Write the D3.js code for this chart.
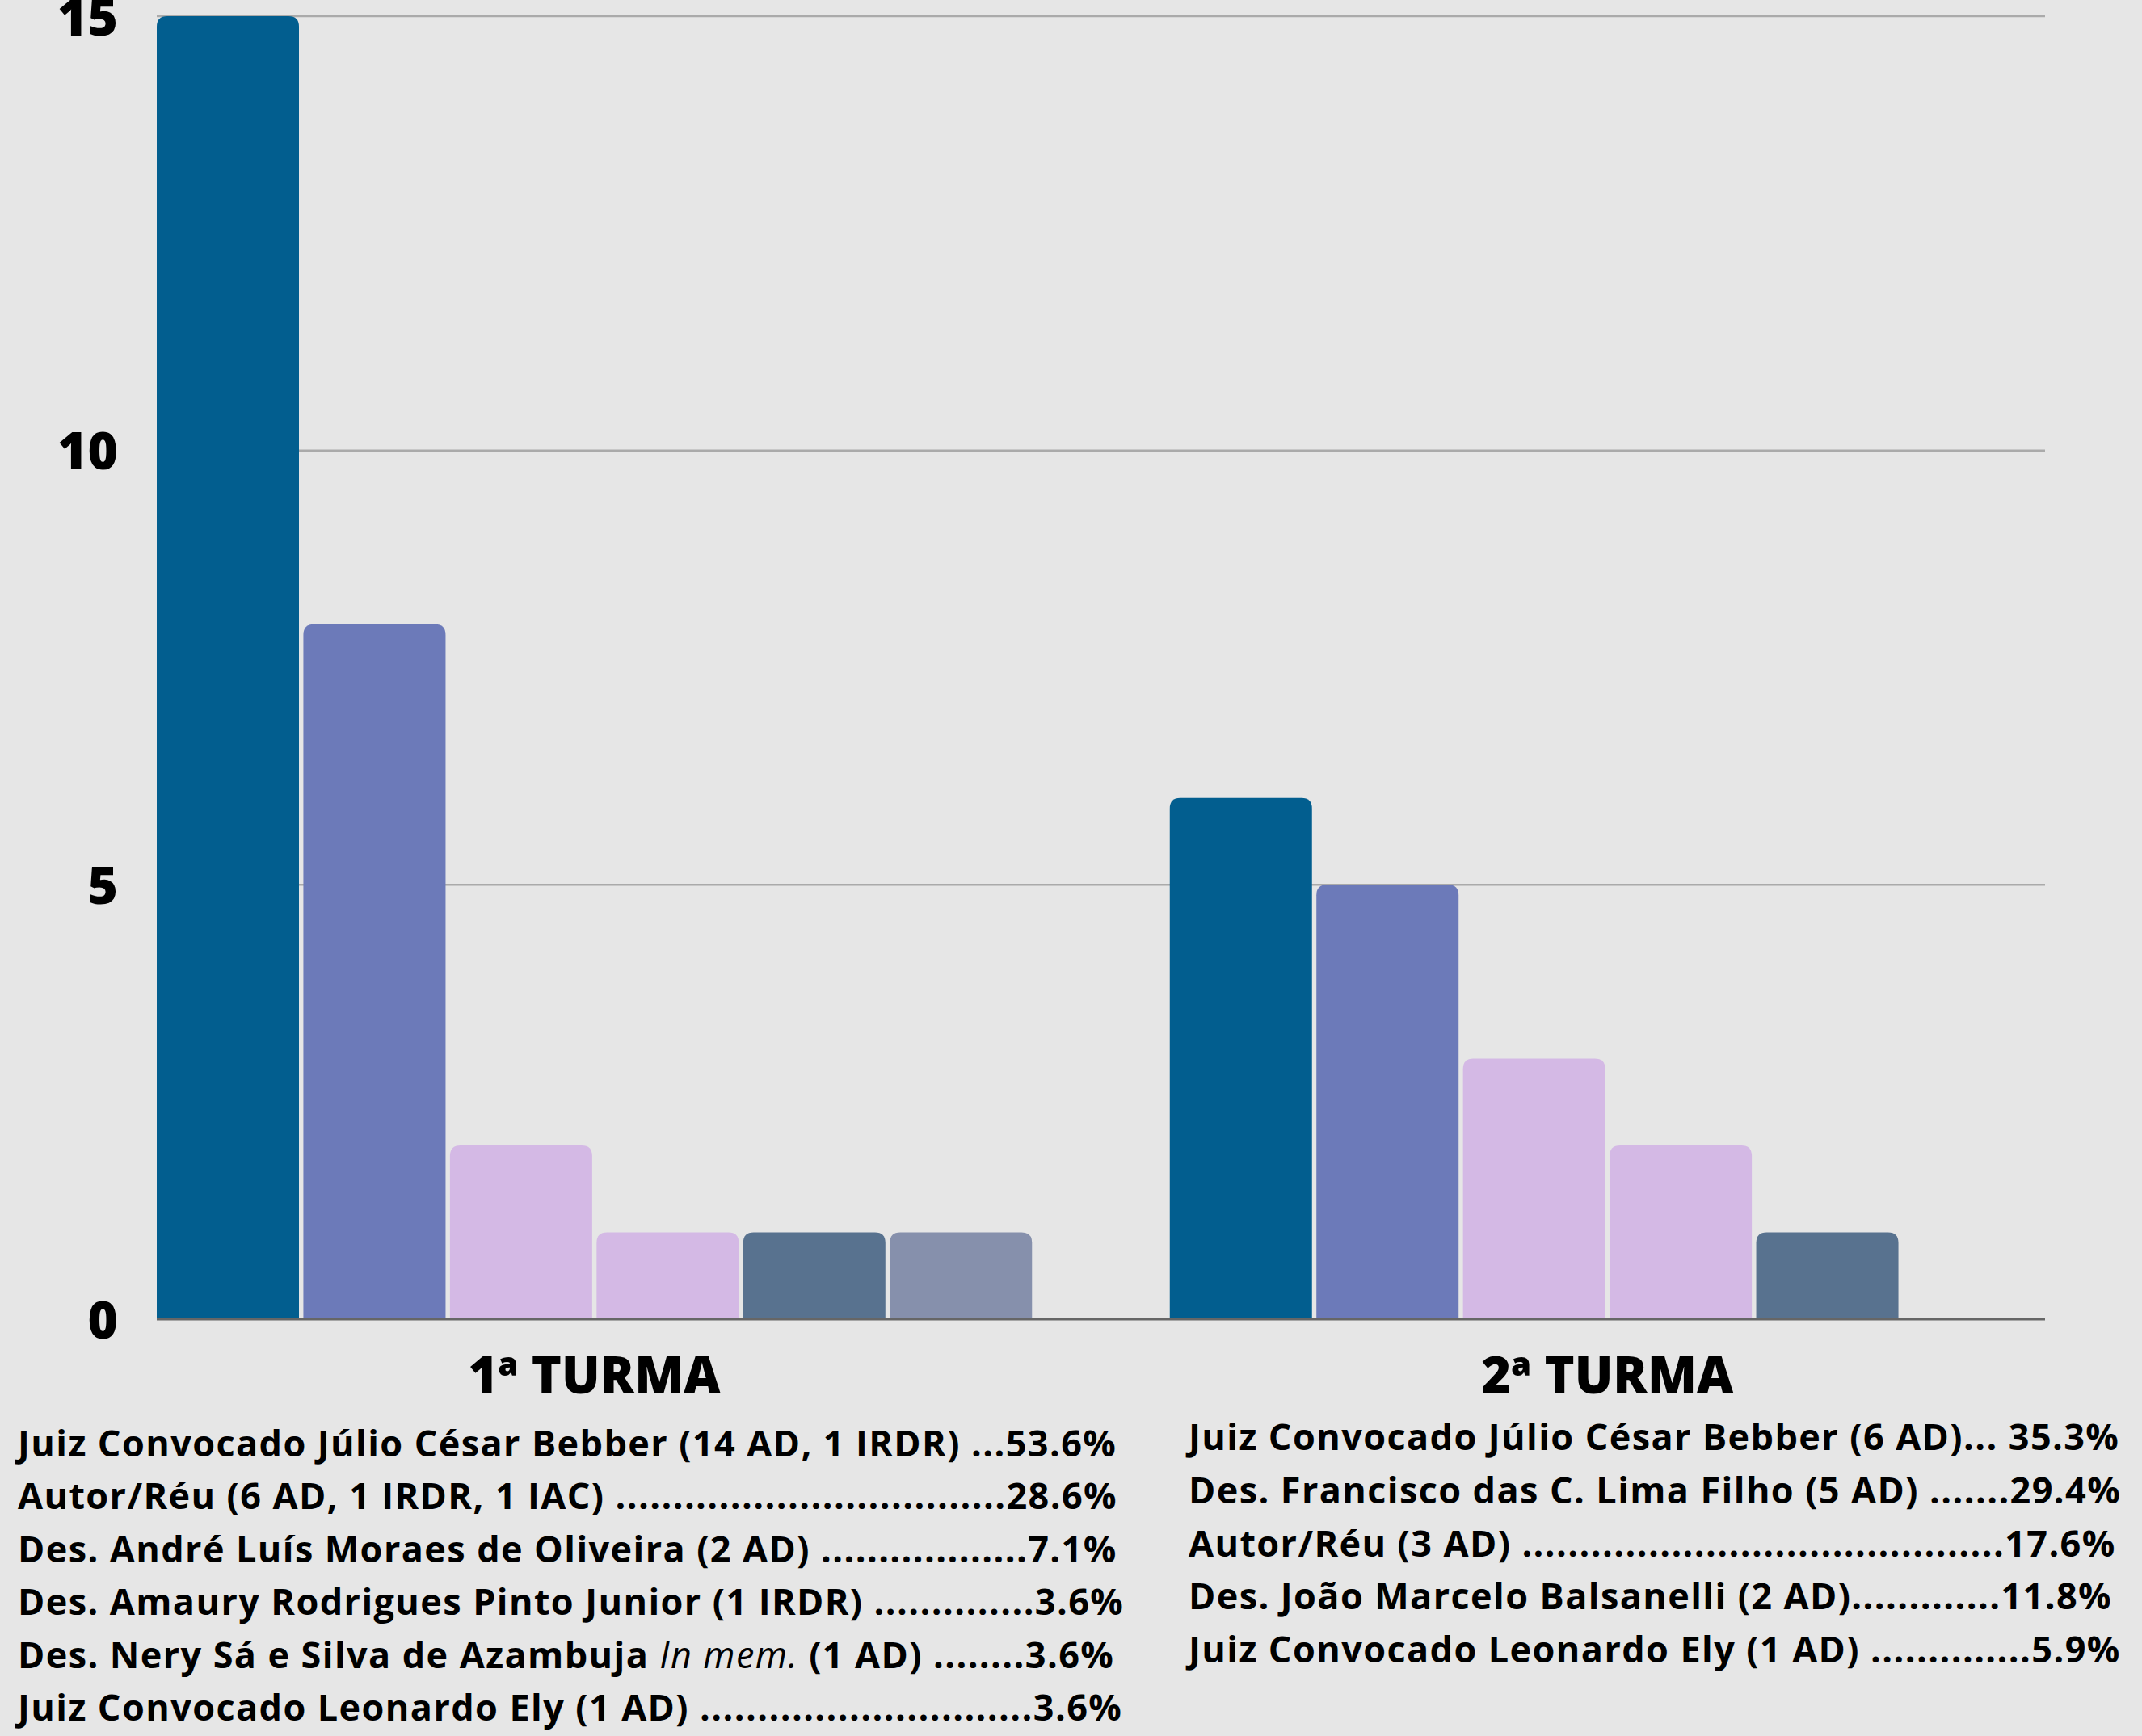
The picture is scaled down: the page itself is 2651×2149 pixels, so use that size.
<!DOCTYPE html>
<html>
<head>
<meta charset="utf-8">
<script src="https://cdn.jsdelivr.net/npm/d3@7"></script>
<style>
  html, body { margin: 0; padding: 0; background: #E6E6E6; }
  svg { display: block; }
  text { font-family: "Open Sans", "Noto Sans", sans-serif; }
</style>
</head>
<body>
<svg id="chart" width="2651" height="2149"></svg>
<script>
// ---------- data ----------
const categories = ["1ª TURMA", "2ª TURMA"];
const turma1Values = [15, 8, 2, 1, 1, 1];
const turma2Values = [6, 5, 3, 2, 1];
const turma1Colors = ["#025E8F", "#6C7AB9", "#D4B9E5", "#D4B9E5", "#58728F", "#8690AC"];
const turma2Colors = ["#025E8F", "#6C7AB9", "#D4B9E5", "#D4B9E5", "#58728F"];
const yTicks = [0, 5, 10, 15];

const legend1Labels = [
  ["Juiz Convocado Júlio César Bebber (14 AD, 1 IRDR) "],
  ["Autor/Réu (6 AD, 1 IRDR, 1 IAC) "],
  ["Des. André Luís Moraes de Oliveira (2 AD) "],
  ["Des. Amaury Rodrigues Pinto Junior (1 IRDR) "],
  ["Des. Nery Sá e Silva de Azambuja ", "In mem.", " (1 AD) "],
  ["Juiz Convocado Leonardo Ely (1 AD) "]
];
const legend1Pcts = ["53.6%", "28.6%", "7.1%", "3.6%", "3.6%", "3.6%"];
const legend2Labels = [
  ["Juiz Convocado Júlio César Bebber (6 AD)"],
  ["Des. Francisco das C. Lima Filho (5 AD) "],
  ["Autor/Réu (3 AD) "],
  ["Des. João Marcelo Balsanelli (2 AD)"],
  ["Juiz Convocado Leonardo Ely (1 AD) "]
];
const legend2Pcts = [" 35.3%", "29.4%", "17.6%", "11.8%", "5.9%"];

// ---------- layout ----------
const svg = d3.select("#chart");
const W = 2651, H = 2149;
const plotLeft = 194, plotRight = 2531, plotTop = 20, plotBottom = 1633;

svg.append("rect").attr("width", W).attr("height", H).attr("fill", "#E6E6E6");

const y = d3.scaleLinear().domain([0, 15]).range([plotBottom, plotTop]);
const x0 = d3.scaleBand().domain(categories).range([plotLeft, plotRight])
  .paddingInner(0.136).paddingOuter(0);
const x1 = d3.scaleBand().domain(d3.range(6)).range([0, x0.bandwidth()])
  .paddingInner(0.03).paddingOuter(0);

// gridlines
svg.append("g").selectAll("line")
  .data(yTicks.filter(d => d > 0))
  .join("line")
  .attr("x1", plotLeft).attr("x2", plotRight)
  .attr("y1", d => y(d)).attr("y2", d => y(d))
  .attr("stroke", "#AAAAAA").attr("stroke-width", 2.5);

// y axis labels
const yAxis = d3.axisLeft(y).tickValues(yTicks).tickSize(0).tickPadding(0).tickFormat(d3.format("d"));
const yg = svg.append("g").attr("transform", `translate(146,0)`).call(yAxis);
yg.select(".domain").remove();
yg.selectAll("text")
  .attr("font-family", "'Open Sans', sans-serif")
  .attr("font-size", 64).attr("font-weight", 800).attr("fill", "#000")
  .attr("dy", "0.36em");

// bars
function topRoundedPath(x, y0, w, h, r) {
  r = Math.min(r, h, w / 2);
  return `M${x},${y0 + h} L${x},${y0 + r} Q${x},${y0} ${x + r},${y0} L${x + w - r},${y0} Q${x + w},${y0} ${x + w},${y0 + r} L${x + w},${y0 + h} Z`;
}
const groups = [
  { cat: categories[0], values: turma1Values, colors: turma1Colors },
  { cat: categories[1], values: turma2Values, colors: turma2Colors }
];
const gBars = svg.append("g");
groups.forEach(g => {
  gBars.append("g").attr("transform", `translate(${x0(g.cat)},0)`)
    .selectAll("path").data(g.values).join("path")
    .attr("d", (v, i) => topRoundedPath(x1(i), y(v), x1.bandwidth(), plotBottom - y(v), 13))
    .attr("fill", (v, i) => g.colors[i]);
});

// baseline
svg.append("line").attr("x1", plotLeft).attr("x2", plotRight)
  .attr("y1", plotBottom).attr("y2", plotBottom)
  .attr("stroke", "#666666").attr("stroke-width", 3);

// category labels
svg.append("g").selectAll("text").data(categories).join("text")
  .attr("x", d => x0(d) + x0.bandwidth() / 2)
  .attr("y", 1725)
  .attr("text-anchor", "middle")
  .attr("font-size", 63).attr("font-weight", 800).attr("fill", "#000")
  .text(d => d);

// legends with dot leaders
function drawLegend(labels, pcts, xStart, yStart, lineH, xRight) {
  labels.forEach((parts, i) => {
    const t = svg.append("text")
      .attr("x", xStart).attr("y", yStart + i * lineH)
      .attr("font-size", 45).attr("font-weight", 700).attr("fill", "#000")
      .attr("letter-spacing", 1.4);
    parts.forEach(p => {
      const ts = t.append("tspan").text(p);
      if (p === "In mem.") ts.attr("font-style", "italic").attr("font-weight", 400);
    });
    const dots = t.append("tspan").text("");
    t.append("tspan").text(pcts[i]);
    const base = t.node().getComputedTextLength();
    dots.text(".");
    const dw = t.node().getComputedTextLength() - base;
    let n = Math.floor((xRight - xStart - base) / dw);
    n = Math.max(3, n);
    dots.text(".".repeat(n));
  });
}
drawLegend(legend1Labels, legend1Pcts, 22, 1803, 65.4, 1392);
drawLegend(legend2Labels, legend2Pcts, 1471, 1795, 65.8, 2626);
</script>
</body>
</html>
